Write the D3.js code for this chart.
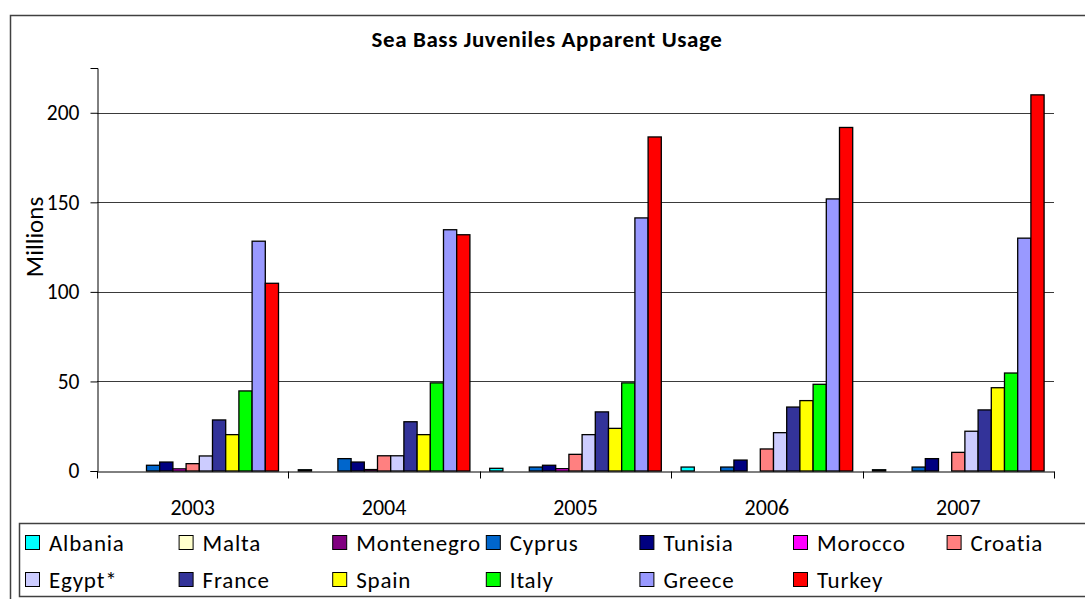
<!DOCTYPE html>
<html>
<head>
<meta charset="utf-8">
<script src="https://cdn.jsdelivr.net/npm/d3@7"></script>
<style>
  html, body { margin: 0; padding: 0; background: #fff; }
  svg { display: block; }
  text { font-family: Carlito, Lato, "Open Sans", sans-serif; fill: #000; }
</style>
</head>
<body>
<svg id="chart" width="1085" height="599"></svg>
<script>
// ---- data ----
const years = ["2003", "2004", "2005", "2006", "2007"];
const seriesNames = ["Albania", "Malta", "Montenegro", "Cyprus", "Tunisia", "Morocco", "Croatia",
                     "Egypt*", "France", "Spain", "Italy", "Greece", "Turkey"];
const albania    = [0, 0.7, 1.5, 2.2, 0.7];
const malta      = [0, 0, 0, 0, 0];
const montenegro = [0, 0, 0, 0, 0];
const cyprus     = [3.2, 6.9, 2.2, 2.2, 2.2];
const tunisia    = [5.0, 5.0, 3.2, 6.1, 6.9];
const morocco    = [1.2, 0.8, 1.3, 0, 0];
const croatia    = [4.1, 8.5, 9.3, 12.3, 10.4];
const egypt      = [8.4, 8.5, 20.3, 21.4, 22.2];
const france     = [28.5, 27.5, 33.0, 35.7, 34.1];
const spain      = [20.3, 20.3, 23.8, 39.3, 46.5];
const italy      = [44.7, 49.2, 49.2, 48.4, 54.7];
const greece     = [128.3, 134.7, 141.3, 151.9, 130.0];
const turkey     = [104.8, 131.9, 186.5, 191.8, 210.0];
const yTicks     = [0, 50, 100, 150, 200];
const seriesColors = ["#00FFFF", "#FFFFCC", "#800080", "#0066CC", "#000080", "#FF00FF", "#FF8080",
                      "#CCCCFF", "#333399", "#FFFF00", "#00FF00", "#9999FF", "#FF0000"];

const seriesValues = [albania, malta, montenegro, cyprus, tunisia, morocco, croatia,
                      egypt, france, spain, italy, greece, turkey];
const table = years.map((yr, i) => ({
  year: yr,
  values: seriesNames.map((s, j) => ({ name: s, value: seriesValues[j][i], color: seriesColors[j] }))
}));

// ---- layout ----
const svg = d3.select("#chart");
const plot = { left: 97, right: 1054, top: 68, bottom: 471 };

// outer chart border
svg.append("rect").attr("x", 10.5).attr("y", 15.5).attr("width", 1080).attr("height", 590)
  .attr("fill", "#fff").attr("stroke", "#404040").attr("stroke-width", 1.5);

const x0 = d3.scaleBand().domain(years).range([plot.left, plot.right]).paddingInner(0).paddingOuter(0);
const x1 = d3.scaleBand().domain(seriesNames).range([0, x0.bandwidth()]).paddingInner(0).paddingOuter(0.75);
const y = d3.scaleLinear().domain([0, 225]).range([plot.bottom, plot.top]);

// gridlines
svg.append("g").selectAll("line").data(yTicks.filter(d => d > 0)).join("line")
  .attr("x1", plot.left).attr("x2", plot.right)
  .attr("y1", d => Math.round(y(d)) + 0.5).attr("y2", d => Math.round(y(d)) + 0.5)
  .attr("stroke", "#3a3a3a").attr("stroke-width", 1);

// bars
const groups = svg.append("g").selectAll("g").data(table).join("g")
  .attr("transform", d => `translate(${x0(d.year)},0)`);
groups.selectAll("rect").data(d => d.values.filter(v => v.value > 0)).join("rect")
  .attr("x", d => x1(d.name))
  .attr("y", d => y(d.value))
  .attr("width", x1.bandwidth())
  .attr("height", d => y(0) - y(d.value))
  .attr("fill", d => d.color)
  .attr("stroke", "#000").attr("stroke-width", 1.3);

// y axis
const yAxis = d3.axisLeft(y).tickValues(yTicks).tickSize(7).tickPadding(11).tickFormat(d3.format("d"));
const gy = svg.append("g").attr("transform", `translate(${plot.left + 0.5},0)`).call(yAxis);
gy.select(".domain").attr("stroke", "#000");
gy.selectAll(".tick line").attr("stroke", "#000");
gy.selectAll(".tick text").attr("font-size", 21.5).attr("font-family", "Carlito, Lato, sans-serif");

// x axis
const xAxis = d3.axisBottom(x0).tickSize(0).tickPadding(28);
const gx = svg.append("g").attr("transform", `translate(0,${plot.bottom + 0.5})`).call(xAxis);
gx.select(".domain").attr("stroke", "#000");
gx.selectAll(".tick text").attr("font-size", 22).attr("dy", 0).attr("font-family", "Carlito, Lato, sans-serif");
gx.selectAll(".tick text").attr("y", 43);
// category boundary tick marks
const boundaries = years.map(d => x0(d)).concat([x0(years[years.length - 1]) + x0.bandwidth()]);
gx.selectAll("line.bnd").data(boundaries).join("line").attr("class", "bnd")
  .attr("x1", d => Math.round(d) + 0.5).attr("x2", d => Math.round(d) + 0.5)
  .attr("y1", 0).attr("y2", 7).attr("stroke", "#000");

// title
svg.append("text").attr("x", 547).attr("y", 47).attr("text-anchor", "middle")
  .attr("font-size", 23).attr("font-weight", "bold").attr("letter-spacing", 0.6)
  .text("Sea Bass Juveniles Apparent Usage");

// y axis title
svg.append("text").attr("transform", "translate(43,237) rotate(-90)").attr("text-anchor", "middle")
  .attr("font-size", 25).text("Millions");

// legend
svg.append("rect").attr("x", 19.5).attr("y", 523.5).attr("width", 1080).attr("height", 73)
  .attr("fill", "#fff").attr("stroke", "#404040").attr("stroke-width", 1.5);
const legendItems = seriesNames.map((s, i) => ({ name: s, color: seriesColors[i], col: i % 7, row: Math.floor(i / 7) }));
const lg = svg.append("g").selectAll("g").data(legendItems).join("g")
  .attr("transform", d => `translate(${25 + d.col * 153.6},${d.row === 0 ? 543 : 580})`);
lg.append("rect").attr("x", 0.5).attr("y", -7.5).attr("width", 14).attr("height", 14)
  .attr("fill", d => d.color).attr("stroke", "#000").attr("stroke-width", 1);
lg.append("text").attr("x", 24).attr("y", 8).attr("font-size", 23).attr("letter-spacing", 0.8)
  .text(d => d.name);
</script>
</body>
</html>
